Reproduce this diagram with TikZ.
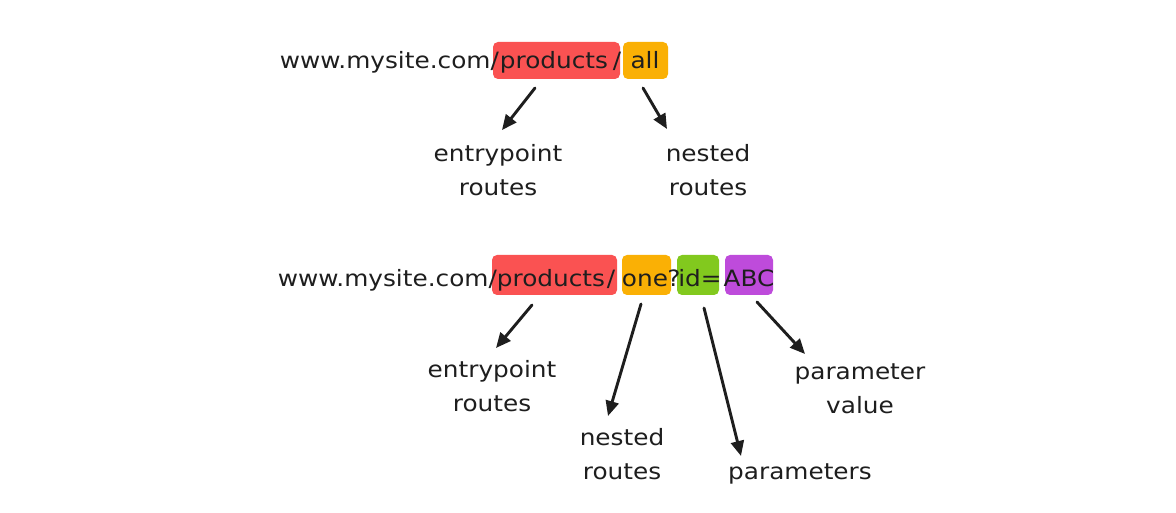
\documentclass[tikz,border=0pt]{standalone}
\usepackage{fontspec}
\newfontfamily\hand{DejaVu Sans}[FakeStretch=1.1]
\usetikzlibrary{arrows.meta}
\definecolor{xred}{HTML}{FA5252}
\definecolor{xorange}{HTML}{FAB005}
\definecolor{xgreen}{HTML}{82C91E}
\definecolor{xpurple}{HTML}{BE4BDB}
\definecolor{ink}{HTML}{1E1E1E}
\tikzset{
  seg/.style={inner sep=0pt, font=\hand\fontsize{22.5}{34}\selectfont, text=ink, anchor=base},
  lbl/.style={inner sep=0pt, font=\hand\fontsize{22.5}{34}\selectfont, text=ink, align=center},
  hl/.style={rounded corners=5pt, draw=none},
  arr/.style={draw=ink, line width=2.9pt, line cap=round, -{Triangle[length=15pt,width=13pt]}}
}
\begin{document}
\begin{tikzpicture}[x=1pt,y=-1pt]
\useasboundingbox (0,0) rectangle (1176,513);
\fill[white] (0,0) rectangle (1176,513);
% ---------- row 1 ----------
\path[hl, fill=xred] (493,42) rectangle (620,79) node[midway, inner sep=0pt] (r1) {};
\path[hl, fill=xorange] (623,42) rectangle (668,79) node[midway, inner sep=0pt] (o1) {};
\node[seg, anchor=base east] (u1) at (499,69) {www.mysite.com/};
\node[seg] (t1a) at (554,69) {products};
\node[seg] (t1b) at (617,69) {/};
\node[seg] (t1c) at (645,69) {all};
% labels row 1
\node[lbl] (l1a) at (498,170) {entrypoint\\routes};
\node[lbl] (l1b) at (708,170) {nested\\routes};
\coordinate (a1s) at (535,88);
\coordinate (a1e) at (502,130);
\coordinate (b1s) at (643,88);
\coordinate (b1e) at (667,129);
\draw[arr] (a1s) -- (a1e);
\draw[arr] (b1s) -- (b1e);
% ---------- row 2 ----------
\path[hl, fill=xred] (492,255) rectangle (617,295) node[midway, inner sep=0pt] (r2) {};
\path[hl, fill=xorange] (622,255) rectangle (671,295) node[midway, inner sep=0pt] (o2) {};
\path[hl, fill=xgreen] (677,255) rectangle (719,295) node[midway, inner sep=0pt] (g2) {};
\path[hl, fill=xpurple] (725,255) rectangle (773,295) node[midway, inner sep=0pt] (p2) {};
\node[seg, anchor=base east] (u2) at (497,287) {www.mysite.com/};
\node[seg] (t2a) at (551,287) {products};
\node[seg] (t2b) at (611,287) {/};
\node[seg] (t2c) at (645,287) {one};
\node[seg] (t2d) at (674,287) {?};
\node[seg] (t2e) at (700,287) {id=};
\node[seg] (t2f) at (749,287) {ABC};
% labels row 2
\node[lbl] (l2a) at (492,386) {entrypoint\\routes};
\node[lbl] (l2b) at (622,454) {nested\\routes};
\node[lbl] (l2c) at (800,474) {parameters};
\node[lbl] (l2d) at (860,389) {parameter\\value};
\coordinate (a2s) at (532,305);
\coordinate (a2e) at (496,348);
\coordinate (b2s) at (641,304);
\coordinate (b2e) at (608,416);
\coordinate (c2s) at (704,308);
\coordinate (c2e) at (741,456);
\coordinate (d2s) at (757,302);
\coordinate (d2e) at (805,354);
\draw[arr] (a2s) -- (a2e);
\draw[arr] (b2s) -- (b2e);
\draw[arr] (c2s) -- (c2e);
\draw[arr] (d2s) -- (d2e);
\end{tikzpicture}
\end{document}
